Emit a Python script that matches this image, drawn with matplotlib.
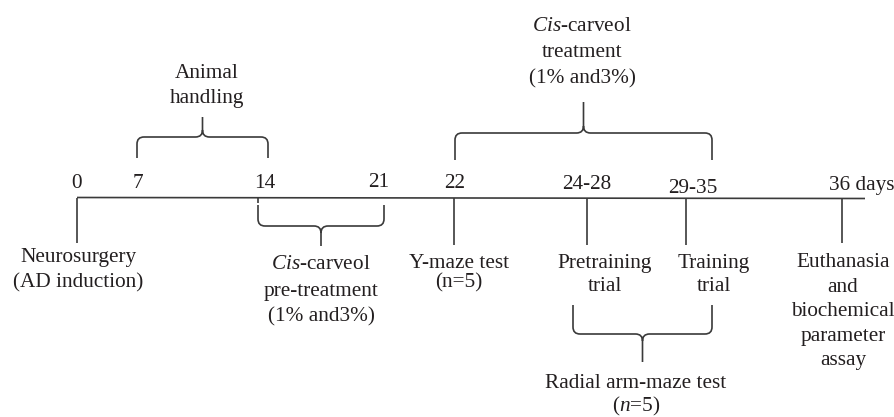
import matplotlib
matplotlib.use("Agg")
import matplotlib.pyplot as plt
from matplotlib.path import Path
from matplotlib.patches import PathPatch

plt.rcParams['font.family'] = ['Liberation Serif', 'DejaVu Serif']
plt.rcParams['mathtext.fontset'] = 'custom'
plt.rcParams['mathtext.rm'] = 'Liberation Serif'
plt.rcParams['mathtext.it'] = 'Liberation Serif:italic'

# ---- data ----
day_labels = ["0", "7", "14", "21", "22", "24-28", "29-35", "36 days"]
day_label_x = [77, 138, 265, 379, 455, 587, 693, 862]
day_label_y = [188, 188, 188, 187, 188, 189, 193, 190]

event_x = [77, 258, 454, 587, 686, 842]          # ticks hanging below the line
event_bottom = [243, 203, 245, 245, 245, 243]

event_texts = [
    ["Neurosurgery", "(AD induction)"],
    ["Y-maze test", "(n=5)"],
    ["Pretraining", "trial"],
    ["Training", "trial"],
    ["Euthanasia", "and", "biochemical", "parameter", "assay"],
]
event_text_x = [78, 459, 605, 714, 843]
event_text_y0 = [262, 268, 268, 268, 267]
event_text_dy = [25, 19, 23, 23, 24.5]

braces = [
    dict(x1=137, x2=268, yb=158, yh=137, yt=117),
    dict(x1=455, x2=712, yb=160, yh=133, yt=102),
    dict(x1=258, x2=384, yb=205, yh=226, yt=246),
    dict(x1=573, x2=712, yb=305, yh=334, yt=362),
]
brace_texts = [
    ["Animal", "handling"],
    ["$\\mathit{Cis}$-carveol", "treatment", "(1% and3%)"],
    ["$\\mathit{Cis}$-carveol", "pre-treatment", "(1% and3%)"],
    ["Radial arm-maze test", "($\\mathit{n}$=5)"],
]
brace_text_x = [207, 582, 321, 636]
brace_text_y = [[78, 103], [31, 57, 83], [269, 296, 321], [388, 411]]

# ---- drawing ----
W, H = 895, 417
fig = plt.figure(figsize=(W / 100, H / 100), dpi=100)
ax = fig.add_axes([0, 0, 1, 1])
ax.set_xlim(0, W)
ax.set_ylim(H, 0)
ax.axis("off")

lc = "#3a3a3a"
tc = "#231f20"
lw = 1.2
fs = 15.3

# main timeline
ax.plot([77, 865], [197.5, 198.5], color=lc, lw=lw, solid_capstyle="butt")

for x, yb in zip(event_x, event_bottom):
    ax.plot([x, x], [198, yb], color=lc, lw=lw, solid_capstyle="butt")

for lab, x, y in zip(day_labels, day_label_x, day_label_y):
    ax.text(x, y, lab, ha="center", va="baseline", fontsize=fs, color=tc)


def brace(x1, x2, yb, yh, yt, r=7, c=7):
    s = 1 if yh > yb else -1  # direction the arms travel
    xc = (x1 + x2) / 2
    verts = [
        (x1, yb), (x1, yh - s * r),
        (x1, yh), (x1 + r, yh),
        (xc - c, yh),
        (xc, yh), (xc, yh + s * c),
        (xc, yt),
        (x2, yb), (x2, yh - s * r),
        (x2, yh), (x2 - r, yh),
        (xc + c, yh),
        (xc, yh), (xc, yh + s * c),
    ]
    codes = [
        Path.MOVETO, Path.LINETO,
        Path.CURVE3, Path.CURVE3,
        Path.LINETO,
        Path.CURVE3, Path.CURVE3,
        Path.LINETO,
        Path.MOVETO, Path.LINETO,
        Path.CURVE3, Path.CURVE3,
        Path.LINETO,
        Path.CURVE3, Path.CURVE3,
    ]
    ax.add_patch(PathPatch(Path(verts, codes), fill=False, edgecolor=lc,
                           lw=lw, capstyle="butt"))


for b in braces:
    brace(**b)

for lines, x, ys in zip(brace_texts, brace_text_x, brace_text_y):
    for t, y in zip(lines, ys):
        ax.text(x, y, t, ha="center", va="baseline", fontsize=fs, color=tc)

for lines, x, y0, dy in zip(event_texts, event_text_x, event_text_y0, event_text_dy):
    for i, t in enumerate(lines):
        ax.text(x, y0 + i * dy, t, ha="center", va="baseline", fontsize=fs, color=tc)

fig.savefig("out.png", dpi=100)
